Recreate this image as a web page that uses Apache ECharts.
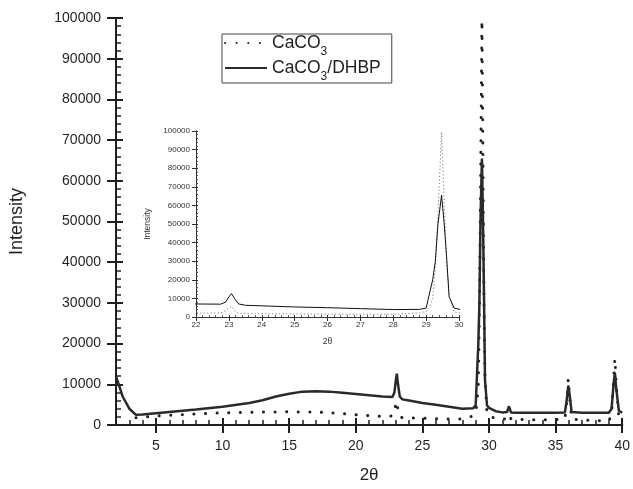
<!DOCTYPE html>
<html><head><meta charset="utf-8">
<script src="https://cdn.jsdelivr.net/npm/echarts@6/dist/echarts.min.js"></script>
<style>html,body{margin:0;padding:0;background:#fff}#c{width:633px;height:489px}</style>
</head><body><div id="c"></div>
<script>
// 2θ positions (degrees)
const twoTheta = [2.0, 2.5, 3.0, 3.5, 4.0, 5.0, 6.0, 8.0, 10.0, 12.0, 13.0, 14.0, 15.0, 16.0, 17.0, 18.0, 19.0, 20.0, 21.0, 22.0,
  22.75, 22.9, 23.0, 23.08, 23.17, 23.3, 23.5, 24.0, 25.0, 26.0, 27.0, 28.0, 28.8, 29.0, 29.12, 29.2, 29.28, 29.36, 29.47, 29.55,
  29.62, 29.7, 29.85, 30.0, 30.5, 31.0, 31.35, 31.5, 31.65, 32.0, 33.0, 34.0, 35.0, 35.7, 35.85, 35.95, 36.05, 36.2, 37.0, 38.0,
  39.0, 39.2, 39.35, 39.45, 39.55, 39.75, 40.0];
// CaCO3 (dotted)
const caco3 = [null, null, null, 1800, 1900, 2200, 2400, 2700, 3000, 3100, 3200, 3200, 3250, 3200, 3200, 3000, 2800, 2500, 2300, 2100,
  2200, 3500, 5000, 5800, 3500, 2000, 1800, 1750, 1650, 1550, 1450, 1500, 2200, 3000, 6000, 10000, 27000, 55000, 99500, 62000,
  30000, 11000, 2700, 2200, 1600, 1400, 1600, 2600, 1500, 1400, 1300, 1300, 1300, 1500, 6000, 11300, 7000, 1500, 1200, 1100,
  1000, 2500, 11000, 16300, 10000, 1500, 900];
// CaCO3/DHBP (solid)
const caco3Dhbp = [12000, 7000, 4000, 2500, 2600, 2900, 3200, 3800, 4500, 5400, 6100, 7000, 7700, 8200, 8300, 8200, 7900, 7600, 7300, 7000,
  6900, 8000, 10800, 12600, 10000, 7000, 6300, 6000, 5400, 5000, 4500, 4000, 4100, 4800, 14000, 20000, 30000, 50000, 65500, 50000,
  33000, 11000, 4800, 4200, 3400, 3100, 3200, 4600, 3100, 3000, 3000, 3000, 3000, 3100, 6500, 9700, 7500, 3200, 3000, 3000,
  3000, 4000, 10000, 12900, 9000, 3500, 3000];
const seriesNames = ['CaCO3', 'CaCO3/DHBP'];
const mainXTicks = [5, 10, 15, 20, 25, 30, 35, 40];
const mainXRange = [2, 40];
const mainYRange = [0, 100000];
const insetXRange = [22, 30];

const pairs = ys => twoTheta.map((x, i) => [x, ys[i]]);
const plain = v => String(v);
const FONT = "'Liberation Sans', Arial, Helvetica, sans-serif";
const INK = '#231f20';
const lineMain = { color: INK, width: 2 };
const lineInset = { color: '#333', width: 1 };

const chart = echarts.init(document.getElementById('c'), null, { renderer: 'canvas' });
chart.setOption({
  animation: false,
  backgroundColor: '#fff',
  grid: [
    { left: 115, top: 18, right: 9, bottom: 57 },
    { left: 196, top: 131, width: 263, height: 186 }
  ],
  legend: {
    data: seriesNames,
    orient: 'vertical',
    left: 222, top: 34,
    padding: [0, 11, 0, 2],
    itemGap: 1,
    itemWidth: 42, itemHeight: 14,
    itemStyle: { opacity: 0 },
    borderColor: '#444', borderWidth: 1, borderRadius: 0,
    backgroundColor: '#fff',
    formatter: n => n === 'CaCO3' ? '{a|CaCO}{s|3}' : '{a|CaCO}{s|3}{a|/DHBP}',
    textStyle: {
      fontFamily: FONT, color: INK,
      rich: {
        a: { fontSize: 17.5, lineHeight: 30, fontFamily: FONT, color: INK },
        s: { fontSize: 12, lineHeight: 30, verticalAlign: 'bottom', fontFamily: FONT, color: INK }
      }
    }
  },
  xAxis: [
    { gridIndex: 0, type: 'value', position: 'bottom', min: mainXRange[0], max: mainXRange[1],
      name: '2θ', nameLocation: 'middle', nameGap: 42,
      nameTextStyle: { fontSize: 17, color: INK, fontFamily: FONT },
      axisLine: { show: true, onZero: false, lineStyle: lineMain },
      axisTick: { show: true, customValues: mainXTicks, inside: false, length: 8, lineStyle: lineMain },
      axisLabel: { show: true, customValues: mainXTicks, margin: 14, fontSize: 14, color: INK, fontFamily: FONT, formatter: plain },
      splitLine: { show: false } },
    { gridIndex: 0, type: 'value', position: 'bottom', min: mainXRange[0], max: mainXRange[1],
      axisLine: { show: true, onZero: false, lineStyle: lineMain },
      axisTick: { show: true, customValues: mainXTicks, inside: true, length: 7, lineStyle: lineMain },
      axisLabel: { show: false }, splitLine: { show: false } },
    { gridIndex: 0, type: 'value', position: 'bottom', min: mainXRange[0], max: mainXRange[1], interval: 1,
      axisLine: { show: true, onZero: false, lineStyle: lineMain },
      axisTick: { show: true, inside: true, length: 5, lineStyle: { color: INK, width: 1.5 } },
      axisLabel: { show: false }, splitLine: { show: false } },
    { gridIndex: 1, type: 'value', position: 'bottom', min: insetXRange[0], max: insetXRange[1], interval: 1,
      name: '2θ', nameLocation: 'middle', nameGap: 20,
      nameTextStyle: { fontSize: 8.5, color: '#333', fontFamily: FONT },
      axisLine: { show: true, onZero: false, lineStyle: lineInset },
      axisTick: { show: true, inside: false, length: 4, lineStyle: lineInset },
      axisLabel: { show: true, margin: 4, fontSize: 8, color: '#333', fontFamily: FONT, formatter: plain },
      splitLine: { show: false } },
    { gridIndex: 1, type: 'value', position: 'bottom', min: insetXRange[0], max: insetXRange[1], interval: 1,
      axisLine: { show: true, onZero: false, lineStyle: lineInset },
      axisTick: { show: true, inside: true, length: 2, lineStyle: lineInset },
      minorTick: { show: true, splitNumber: 5, length: 2, lineStyle: { color: '#333', width: 0.8 } },
      axisLabel: { show: false }, splitLine: { show: false } }
  ],
  yAxis: [
    { gridIndex: 0, type: 'value', position: 'left', min: mainYRange[0], max: mainYRange[1], interval: 10000,
      name: 'Intensity', nameLocation: 'middle', nameGap: 90,
      nameTextStyle: { fontSize: 18, color: INK, fontFamily: FONT },
      axisLine: { show: true, onZero: false, lineStyle: lineMain },
      axisTick: { show: true, inside: false, length: 9, lineStyle: lineMain },
      axisLabel: { show: true, margin: 15, fontSize: 14, color: INK, fontFamily: FONT, formatter: plain },
      splitLine: { show: false } },
    { gridIndex: 0, type: 'value', position: 'left', min: mainYRange[0], max: mainYRange[1], interval: 10000,
      axisLine: { show: true, onZero: false, lineStyle: lineMain },
      axisTick: { show: true, inside: true, length: 7, lineStyle: lineMain },
      minorTick: { show: true, splitNumber: 5, length: 5, lineStyle: { color: INK, width: 1.5 } },
      axisLabel: { show: false }, splitLine: { show: false } },
    { gridIndex: 1, type: 'value', position: 'left', min: mainYRange[0], max: mainYRange[1], interval: 10000,
      name: 'Intensity', nameLocation: 'middle', nameGap: 44,
      nameTextStyle: { fontSize: 8.5, color: '#333', fontFamily: FONT },
      axisLine: { show: true, onZero: false, lineStyle: lineInset },
      axisTick: { show: true, inside: false, length: 4, lineStyle: lineInset },
      axisLabel: { show: true, margin: 6, fontSize: 8, color: '#333', fontFamily: FONT, formatter: plain },
      splitLine: { show: false } },
    { gridIndex: 1, type: 'value', position: 'left', min: mainYRange[0], max: mainYRange[1], interval: 10000,
      axisLine: { show: true, onZero: false, lineStyle: lineInset },
      axisTick: { show: true, inside: true, length: 2, lineStyle: lineInset },
      minorTick: { show: true, splitNumber: 5, length: 2, lineStyle: { color: '#333', width: 0.8 } },
      axisLabel: { show: false }, splitLine: { show: false } }
  ],
  series: [
    { type: 'line', name: seriesNames[0], xAxisIndex: 0, yAxisIndex: 0, data: pairs(caco3),
      symbol: 'none', z: 2, itemStyle: { color: INK },
      lineStyle: { color: INK, width: 3, type: [0.1, 11.5], cap: 'round' } },
    { type: 'line', name: seriesNames[1], xAxisIndex: 0, yAxisIndex: 0, data: pairs(caco3Dhbp),
      symbol: 'none', z: 3, itemStyle: { color: '#2a2a2a' },
      lineStyle: { color: '#2a2a2a', width: 2.5 } },
    { type: 'line', name: 'inset ' + seriesNames[0], xAxisIndex: 3, yAxisIndex: 2, data: pairs(caco3),
      symbol: 'none', clip: true, z: 2,
      lineStyle: { color: '#666', width: 1, type: [1, 2.5] } },
    { type: 'line', name: 'inset ' + seriesNames[1], xAxisIndex: 3, yAxisIndex: 2, data: pairs(caco3Dhbp),
      symbol: 'none', clip: true, z: 3,
      lineStyle: { color: '#111', width: 1 } }
  ]
});
</script>
</body></html>
